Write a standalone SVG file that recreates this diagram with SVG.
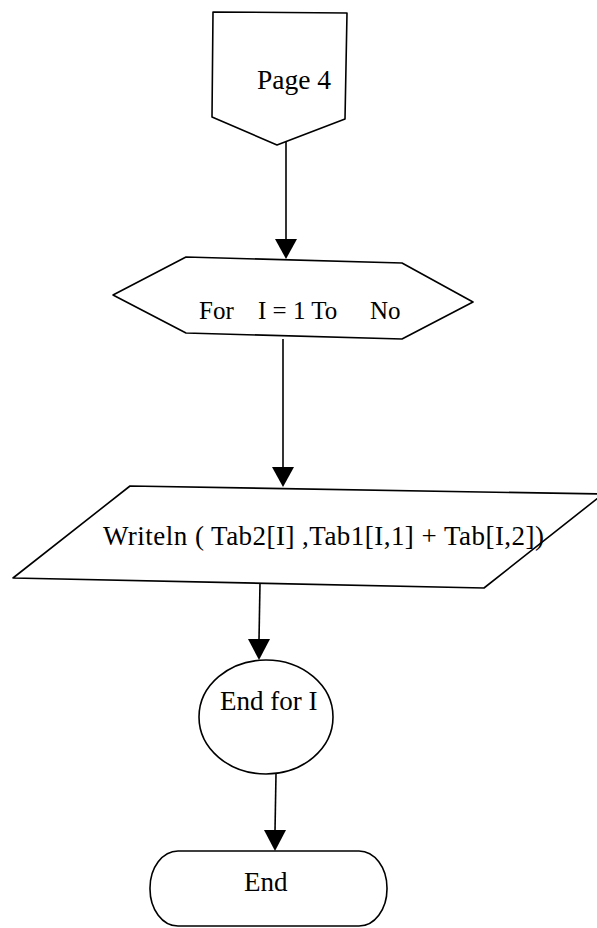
<svg xmlns="http://www.w3.org/2000/svg" width="597" height="928" viewBox="0 0 597 928">
<defs>
<style>
.s{fill:#fff;stroke:#000;stroke-width:1.6;stroke-linejoin:round}
.c line{stroke:#000;stroke-width:1.6}
text{font-family:"Liberation Serif","Times New Roman",serif;fill:#000}
</style>
<marker id="ah" viewBox="0 0 22 20" refX="11" refY="20" markerWidth="22" markerHeight="20" markerUnits="userSpaceOnUse" orient="auto-start-reverse">
<path d="M0,0 L22,0 L11,20 Z" fill="#000" transform="rotate(0)"/>
</marker>
</defs>
<rect width="597" height="928" fill="#fff"/>
<g id="page4">
<polygon class="s" points="213,12 347,13 345,119 277,145 212,117"/>
<text x="257" y="89" font-size="27.5">Page 4</text>
</g>
<g id="forloop">
<polygon class="s" points="113,295 186,257 402,263 473,302 402,339 186,333"/>
<text y="319" font-size="25"><tspan x="199">For</tspan><tspan x="258">I = 1 To</tspan><tspan x="370">No</tspan></text>
</g>
<g id="writeln">
<polygon class="s" points="130,486 603,494 484,588 13,578"/>
<text x="103" y="545" font-size="27" textLength="441" lengthAdjust="spacing">Writeln ( Tab2[I] ,Tab1[I,1] + Tab[I,2])</text>
</g>
<g id="endfor">
<ellipse class="s" cx="266" cy="717" rx="67" ry="57"/>
<text x="220" y="710" font-size="27">End for I</text>
</g>
<g id="end">
<rect class="s" x="150" y="851" width="237" height="75" rx="28" ry="37"/>
<text x="244" y="891" font-size="27">End</text>
</g>
<g class="c" id="connectors">
<g>
<line x1="286" y1="142" x2="286" y2="240"/>
<path d="M275,239 L297,239 L286,259 Z" fill="#000"/>
</g>
<g>
<line x1="283" y1="339" x2="283" y2="468"/>
<path d="M272,467 L294,467 L283,487 Z" fill="#000"/>
</g>
<g>
<line x1="260" y1="583" x2="259" y2="640"/>
<path d="M248,639 L270,639 L259,660 Z" fill="#000"/>
</g>
<g>
<line x1="276" y1="774" x2="275" y2="831"/>
<path d="M264,830 L286,830 L275,851 Z" fill="#000"/>
</g>
</g>
</svg>
